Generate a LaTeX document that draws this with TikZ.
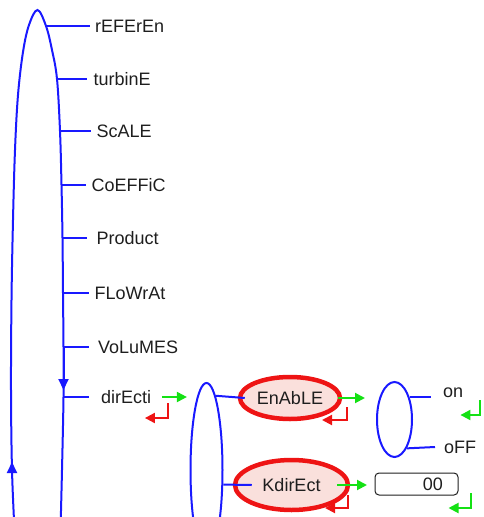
\documentclass[tikz,border=0pt]{standalone}
\usepackage{fontspec}
\setmainfont{Liberation Sans}
\usepackage{tikz}
\usetikzlibrary{arrows.meta,shapes.geometric}
\usepackage{xcolor}
\definecolor{menublue}{RGB}{25,25,255}
\definecolor{okgreen}{RGB}{20,225,20}
\definecolor{escred}{RGB}{238,20,20}
\definecolor{selpink}{RGB}{250,224,220}
\definecolor{menutext}{RGB}{30,30,30}

\begin{document}
\begin{tikzpicture}[x=1pt,y=-1pt,
  lbl/.style={anchor=west, inner sep=0pt, text=menutext, font=\fontsize{18}{20}\selectfont, text height=12.9pt, text depth=0pt},
  branch/.style={menublue, line width=2pt},
  looparr/.style={menublue, line width=2pt, -{Triangle[length=11pt,width=10pt]}},
  okarr/.style={okgreen, line width=2pt, -{Triangle[length=10pt,width=10pt]}},
  escarr/.style={escred, line width=2pt, -{Triangle[length=10pt,width=10pt]}},
  selnode/.style={ellipse, draw=escred, line width=4.5pt, fill=selpink, inner sep=0pt, text=menutext, font=\fontsize{18}{20}\selectfont},
  subloop/.style={ellipse, draw=menublue, line width=2pt, inner sep=0pt}]
\useasboundingbox (0,0) rectangle (484,517);
\clip (0,0) rectangle (484,517);

% main loop
\coordinate (r1) at (46,26);
\coordinate (r2) at (57,79);
\coordinate (r3) at (60,131);
\coordinate (r4) at (61.5,185);
\coordinate (r5) at (62.5,238);
\coordinate (r6) at (63,293);
\coordinate (r7) at (63.5,347);
\coordinate (r8) at (63.5,397);
\coordinate (l1) at (12,470);
\draw[branch] plot[smooth, tension=0.6] coordinates {(14.5,530) (l1) (11,390) (11.5,300) (13,220) (15,150) (18,95) (23,52) (29,25) (37.5,10) (r1) (52,50) (r2) (r3) (r4) (r5) (r6) (r7) (r8) (62,470) (60.5,530)};
\draw[looparr] (r7) -- ++(0,43);
\draw[looparr] (l1) -- ++(0,-8);

% top menu
\node[lbl] (referen) at (95,26) {rEFErEn};
\node[lbl] (turbine) at (93.5,79) {turbinE};
\node[lbl] (scale) at (96.5,131) {ScALE};
\node[lbl] (coeffic) at (91.5,185) {CoEFFiC};
\node[lbl] (product) at (96.5,238) {Product};
\node[lbl] (flowrat) at (94.5,293) {FLoWrAt};
\node[lbl] (volumes) at (98,347) {VoLuMES};
\node[lbl] (direct) at (101,397) {dirEcti};
\draw[branch] (r1) -- ([xshift=-5pt]referen.west);
\draw[branch] (r2) -- ([xshift=-6.5pt]turbine.west);
\draw[branch] (r3) -- ([xshift=-5.5pt]scale.west);
\draw[branch] (r4) -- ([xshift=-5.5pt]coeffic.west);
\draw[branch] (r5) -- ([xshift=-9.5pt]product.west);
\draw[branch] (r6) -- ([xshift=-5.5pt]flowrat.west);
\draw[branch] (r7) -- ([xshift=-9pt]volumes.west);
\draw[branch] (r8) -- ([xshift=-12pt]direct.west);
\draw[okarr] ([xshift=10.5pt]direct.east) -- ++(25,0);
\draw[escarr] ([xshift=16.5pt,yshift=-6pt]direct.east) |- ++(-23,15);

% dirEcti submenu
\node[subloop, minimum width=32pt, minimum height=174pt] (sub) at (206.5,470) {};
\node[selnode, minimum width=100pt, minimum height=42pt] (enable) at (290,398) {EnAbLE};
\node[selnode, minimum width=113pt, minimum height=50pt] (kdir) at (291.5,485) {KdirEct};
\draw[branch] (sub.83) -- ([xshift=7pt]enable.west);
\draw[branch] (sub.-41) -- ([xshift=19pt]kdir.west);
\draw[okarr] ([xshift=48pt]enable.center) -- ++(27,0);
\draw[escarr] ([xshift=57pt,yshift=-9pt]enable.center) |- ++(-25,13);
\draw[okarr] ([xshift=45.5pt]kdir.center) -- ++(30,0);
\draw[escarr] ([xshift=56.5pt,yshift=-10pt]kdir.center) |- ++(-23,13);

% on / off
\node[subloop, minimum width=35pt, minimum height=75pt] (onoff) at (394.5,419.5) {};
\node[lbl] (on) at (443,391.5) {on};
\node[lbl] (off) at (444,447) {oFF};
\draw[branch] (onoff.56) -- ++(21,0);
\draw[branch] (onoff.-67) -- ([xshift=-9pt]off.west);
\draw[okarr] ([xshift=17pt,yshift=-8.5pt]on.east) |- ++(-20,15);

% value box
\node[draw=menutext, line width=1pt, rounded corners=4pt, minimum height=22pt, text width=53pt, inner xsep=15pt, inner ysep=0pt, align=right, text=menutext, font=\fontsize{18}{20}\selectfont] (kval) at (416.5,484) {00};
\draw[okarr] ([xshift=12pt,yshift=-9pt]kval.east) |- ++(-22,15);
\end{tikzpicture}
\end{document}
